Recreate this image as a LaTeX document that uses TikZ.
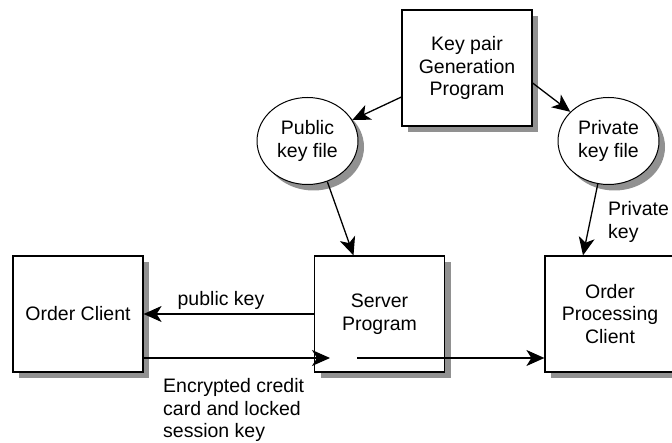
\documentclass[tikz,border=0pt]{standalone}
\usepackage{fontspec}
\setmainfont{Liberation Sans}
\usetikzlibrary{arrows.meta,shapes.geometric}
\definecolor{shadowgray}{RGB}{145,145,145}
\begin{document}
\begin{tikzpicture}[x=1pt,y=-1pt,
  font=\fontsize{19.5}{22.5}\selectfont,
  box/.style={draw,line width=1.2pt,fill=white,minimum width=130pt,minimum height=116pt,
    inner sep=0pt,align=center},
  keyfile/.style={ellipse,draw,line width=1pt,fill=white,minimum width=101pt,minimum height=87pt,
    inner sep=0pt,align=center},
  shadowfill/.style={fill=shadowgray,draw=none},
  lbl/.style={inner sep=0pt,align=left},
  arr/.style={line width=1.3pt,-{Stealth[length=18pt,width=16pt,inset=5pt]}}]
\useasboundingbox (0,0) rectangle (672,443);
\fill[white] (0,0) rectangle (672,443);
% drop shadows, 6 right and 6 down
\path[shadowfill] (408,16) rectangle (538,132);
\path[shadowfill] (19,262) rectangle (149,378);
\path[shadowfill] (320.5,262) rectangle (450.5,378);
\path[shadowfill] (551,262) rectangle (672,378);
\path[shadowfill] (313.5,147) ellipse [x radius=50.5, y radius=43.5];
\path[shadowfill] (614.5,147) ellipse [x radius=50.5, y radius=43.5];
\node[box] (kp) at (467,68) {Key pair\\Generation\\Program};
\node[keyfile] (pub) at (307.5,141) {Public\\key file};
\node[keyfile] (priv) at (608.5,141) {Private\\key file};
\node[box] (oc) at (78,314) {Order Client};
\node[box] (sp) at (379.5,314) {Server\\Program};
\node[box] (opc) at (610,314) {Order\\Processing\\Client};
\node[lbl] (lpub) at (221,300) {public key};
\node[lbl,anchor=west] (lenc) at (163,410) {Encrypted credit\\card and locked\\session key};
\node[lbl,anchor=west] (lpriv) at (608,222) {Private\\key};
\coordinate (tipin) at (330,358);
\coordinate (startout) at (357,358);
\draw[arr] ([yshift=-29pt]kp.west) -- (pub);
\draw[arr] ([yshift=-15pt]kp.east) -- (priv);
\draw[arr] (pub.-64) -- ([xshift=-26pt]sp.north);
\draw[arr] (priv.-104) -- ([xshift=-27pt]opc.north);
\draw[arr] (sp.west) -- (oc.east);
\draw[arr] (oc.east |- tipin) -- (tipin);
\draw[arr] (startout) -- (opc.west |- startout);
\end{tikzpicture}
\end{document}
